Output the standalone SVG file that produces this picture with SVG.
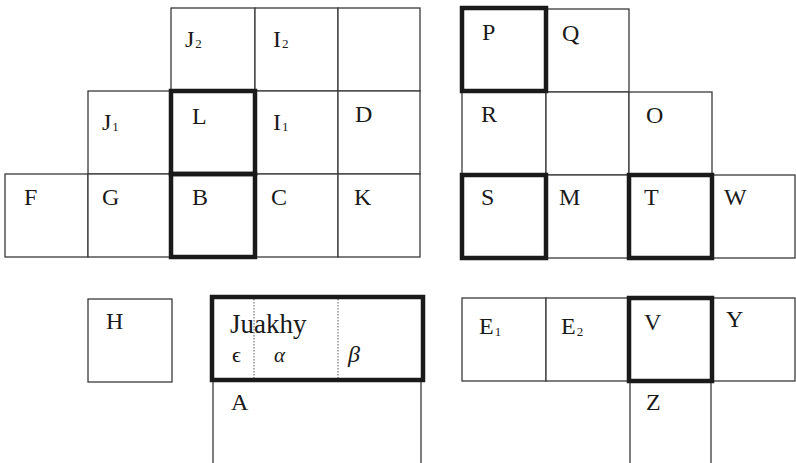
<svg xmlns="http://www.w3.org/2000/svg" width="796" height="463" viewBox="0 0 796 463">
<style>
.c{fill:#fff;stroke:#3a3a3a;stroke-width:1.3}
.k{fill:none;stroke:#1a1a1a;stroke-width:4.5}
.t{fill:#1a1a1a}
.s{font-size:13px}
.d{stroke:#777;stroke-width:1.2;stroke-dasharray:1.5 1.5}
</style>
<rect width="796" height="463" fill="#fff"/>
<g font-family="'Liberation Serif', 'DejaVu Serif', serif" font-size="24">
<!-- left upper group -->
<g id="J2"><rect class="c" x="171" y="8" width="84" height="83"/><text class="t" x="185" y="47">J<tspan class="s" dx="1" dy="1">2</tspan></text></g>
<g id="I2"><rect class="c" x="255" y="8" width="83" height="83"/><text class="t" x="273" y="47">I<tspan class="s" dx="1" dy="1">2</tspan></text></g>
<g id="empty1"><rect class="c" x="338" y="8" width="82" height="83"/></g>
<g id="J1"><rect class="c" x="88" y="91" width="83" height="83"/><text class="t" x="102" y="130">J<tspan class="s" dx="1" dy="1">1</tspan></text></g>
<g id="I1"><rect class="c" x="255" y="91" width="83" height="83"/><text class="t" x="273" y="130">I<tspan class="s" dx="1" dy="1">1</tspan></text></g>
<g id="D"><rect class="c" x="338" y="91" width="82" height="83"/><text class="t" x="355" y="122">D</text></g>
<g id="F"><rect class="c" x="5" y="174" width="83" height="83"/><text class="t" x="24" y="205">F</text></g>
<g id="G"><rect class="c" x="88" y="174" width="83" height="83"/><text class="t" x="102" y="205">G</text></g>
<g id="C"><rect class="c" x="255" y="174" width="83" height="83"/><text class="t" x="271" y="205">C</text></g>
<g id="K"><rect class="c" x="338" y="174" width="82" height="83"/><text class="t" x="354" y="205">K</text></g>
<g id="L"><rect class="k" x="171" y="91" width="84" height="83"/><text class="t" x="192" y="124">L</text></g>
<g id="B"><rect class="k" x="171" y="174" width="84" height="83"/><text class="t" x="192" y="205">B</text></g>
<!-- right upper group -->
<g id="Q"><rect class="c" x="546" y="9" width="83" height="83"/><text class="t" x="562" y="41">Q</text></g>
<g id="R"><rect class="c" x="462" y="92" width="84" height="83"/><text class="t" x="481" y="122">R</text></g>
<g id="empty2"><rect class="c" x="546" y="92" width="83" height="83"/></g>
<g id="O"><rect class="c" x="629" y="92" width="83" height="83"/><text class="t" x="646" y="123">O</text></g>
<g id="M"><rect class="c" x="546" y="175" width="83" height="83"/><text class="t" x="559" y="205">M</text></g>
<g id="W"><rect class="c" x="712" y="175" width="83" height="83"/><text class="t" x="724" y="205">W</text></g>
<g id="P"><rect class="k" x="462" y="8" width="84" height="83"/><text class="t" x="482" y="40">P</text></g>
<g id="S"><rect class="k" x="462" y="175" width="84" height="83"/><text class="t" x="481" y="205">S</text></g>
<g id="T"><rect class="k" x="629" y="175" width="83" height="83"/><text class="t" x="644" y="205">T</text></g>
<!-- bottom left -->
<g id="H"><rect class="c" x="88" y="299" width="84" height="83"/><text class="t" x="106" y="329">H</text></g>
<g id="A"><rect class="c" x="213" y="380" width="208" height="90"/><text class="t" x="231" y="410">A</text></g>
<g id="Juakhy"><rect fill="#fff" x="212" y="297" width="211" height="83"/>
<line class="d" x1="254" y1="299" x2="254" y2="378"/><line class="d" x1="338" y1="299" x2="338" y2="378"/>
<rect class="k" x="212" y="297" width="211" height="83"/>
<text class="t" x="230" y="333" font-size="27">Juakhy</text>
<text class="t" x="232" y="362" font-size="22">ϵ</text>
<text class="t" x="274" y="362" font-style="italic" font-size="21">α</text>
<text class="t" x="348" y="362" font-style="italic" font-size="24">β</text></g>
<!-- bottom right -->
<g id="E1"><rect class="c" x="462" y="298" width="84" height="83"/><text class="t" x="479" y="334">E<tspan class="s" dx="1" dy="2">1</tspan></text></g>
<g id="E2"><rect class="c" x="546" y="298" width="83" height="83"/><text class="t" x="561" y="334">E<tspan class="s" dx="1" dy="2">2</tspan></text></g>
<g id="Y"><rect class="c" x="712" y="298" width="83" height="83"/><text class="t" x="726" y="327">Y</text></g>
<g id="Z"><rect class="c" x="630" y="381" width="81" height="90"/><text class="t" x="646" y="410">Z</text></g>
<g id="V"><rect class="k" x="629" y="298" width="83" height="83"/><text class="t" x="644" y="330">V</text></g>
</g>
</svg>
